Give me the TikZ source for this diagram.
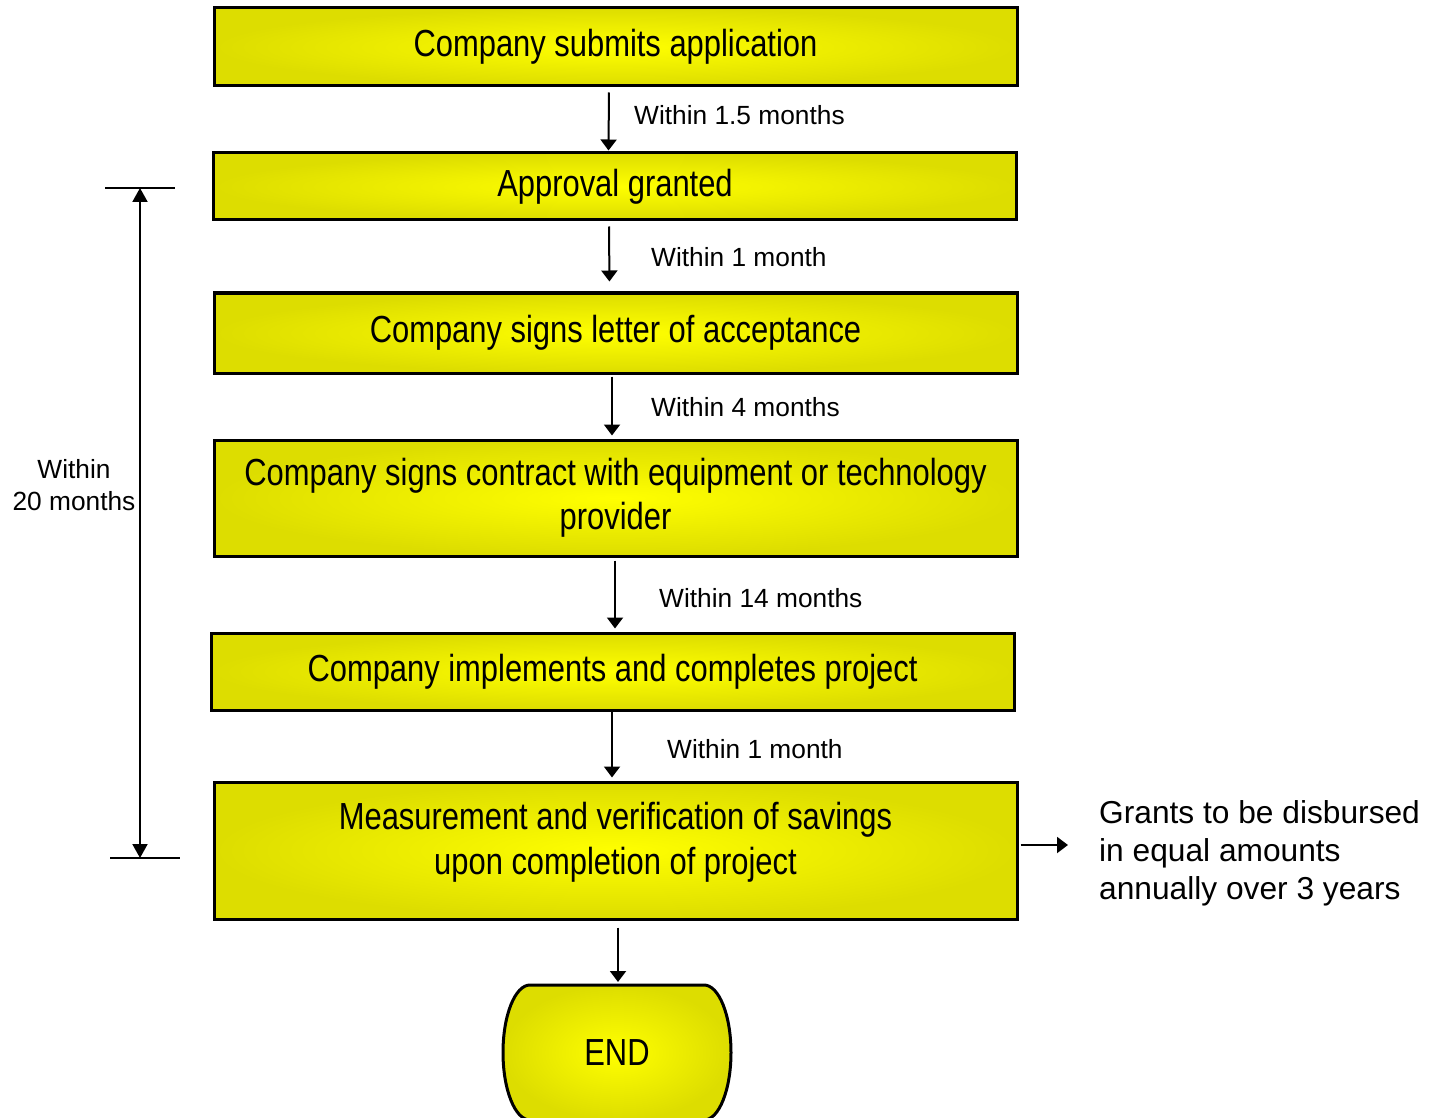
\documentclass[tikz,border=0pt]{standalone}
\usepackage{fontspec}
\setmainfont{Liberation Sans}
\newfontfamily\narrowfont[FakeStretch=0.82]{Liberation Sans}
\usetikzlibrary{arrows.meta, positioning}

\definecolor{boxouter}{RGB}{221,221,0}
\definecolor{boxinner}{RGB}{255,255,0}

\tikzset{
  yellowfill/.style={draw, line width=3pt, inner color=boxinner, outer color=boxouter},
  stepbox/.style={yellowfill, minimum width=803pt, align=center, font=\narrowfont\fontsize{37.7}{44}\selectfont},
  arr/.style={-{Triangle[length=11pt,width=16pt]}, line width=2pt},
  lbl/.style={anchor=west, inner sep=0pt, font=\fontsize{26.3}{32}\selectfont},
}

\begin{document}
\begin{tikzpicture}[x=1pt, y=-1pt]
  \useasboundingbox (0,0) rectangle (1433,1118);

  % Steps
  \node[stepbox, minimum height=78pt] (S) at (615.5,47) {Company submits application};
  \node[stepbox, minimum height=67pt] (A) at (615,186.5) {Approval granted};
  \node[stepbox, minimum height=80pt] (L) at (615.5,333) {Company signs letter of acceptance};
  \node[stepbox, minimum height=116pt] (C) at (615.5,498) {Company signs contract with equipment or technology\\provider};
  \node[stepbox, minimum height=77pt] (I) at (612.5,671.5) {Company implements and completes project};
  \node[stepbox, minimum height=137pt] (M) at (615.5,850.5) {};
  \node[align=center, font=\narrowfont\fontsize{37.7}{45}\selectfont] (M_t) at ([yshift=8pt]M.center) {Measurement and verification of savings\\upon completion of project};

  % End
  \path[yellowfill] (530,985) -- (704,985) arc(-90:90:27 and 67.5) -- (530,1120) arc(90:270:27 and 67.5) -- cycle;
  \coordinate (E_top) at (618,985);
  \node[font=\narrowfont\fontsize{37.7}{44}\selectfont] (E) at (617,1053) {END};

  % Durations
  \node[lbl] (L_1) at (634,115) {Within 1.5 months};
  \node[lbl] (L_2) at (651,257) {Within 1 month};
  \node[lbl] (L_3) at (651,407) {Within 4 months};
  \node[lbl] (L_4) at (659,598) {Within 14 months};
  \node[lbl] (L_5) at (667,749) {Within 1 month};
  \node[align=center, inner sep=0pt, font=\fontsize{26.3}{32}\selectfont] (L_20) at (74,485) {Within\\20 months};
  \node[anchor=west, align=left, inner sep=0pt, font=\fontsize{31.7}{38}\selectfont] (G) at (1099,853) {Grants to be disbursed\\in equal amounts\\annually over 3 years};

  % Arrows
  \draw[arr, shorten <=5pt, shorten >=1pt] ([xshift=-6.5pt]S.south) -- ([xshift=-6.5pt]A.north);
  \draw[arr, shorten <=5pt, shorten >=10pt] ([xshift=-6pt]A.south) -- ([xshift=-6pt]L.north);
  \draw[arr, shorten <=2pt, shorten >=3pt] ([xshift=-3.5pt]L.south) -- ([xshift=-3.5pt]C.north);
  \draw[arr, shorten <=3pt, shorten >=3pt] ([xshift=-0.5pt]C.south) -- ([xshift=2.5pt]I.north);
  \draw[arr, shorten <=-2pt, shorten >=3pt] ([xshift=-0.5pt]I.south) -- ([xshift=-3.5pt]M.north);
  \draw[arr, shorten <=7pt, shorten >=3pt] (M.south -| E_top) -- (E_top);
  \coordinate (G_a) at (1068,845);
  \draw[arr, shorten <=2pt] (M.east |- G_a) -- (G_a);

  % Dimension
  \coordinate (D_t) at (140,188);
  \coordinate (D_b) at (140,858);
  \draw[line width=2pt] (105,188) -- (175,188);
  \draw[line width=2pt] (110,858) -- (180,858);
  \draw[line width=2pt, {Triangle[length=14pt,width=15pt]}-{Triangle[length=14pt,width=15pt]}] (D_t) -- (D_b);
\end{tikzpicture}
\end{document}
